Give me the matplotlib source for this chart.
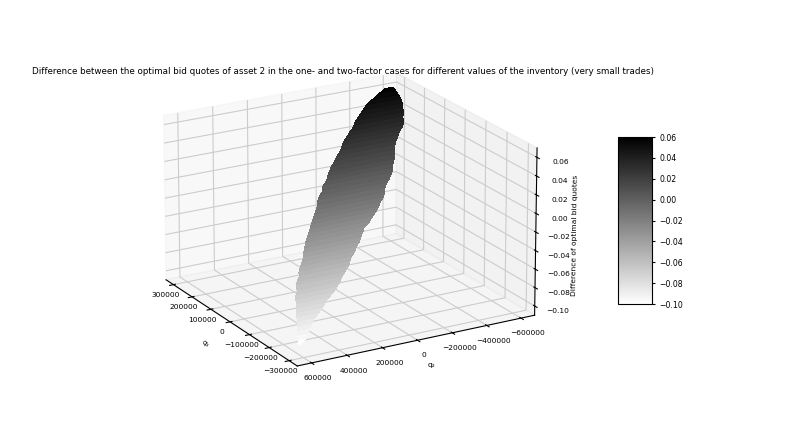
import numpy as np
import matplotlib
matplotlib.use("Agg")
import matplotlib.pyplot as plt
from mpl_toolkits.mplot3d import Axes3D

# rows of the surface: z level, q1 of the row, q2 at both edges
z_rows = [-0.100, -0.097, -0.094, -0.091, -0.088, -0.085, -0.082, -0.079, -0.076, -0.073,
          -0.070, -0.067, -0.064, -0.061, -0.058, -0.055, -0.052, -0.049, -0.046, -0.043,
          -0.040, -0.037, -0.034, -0.031, -0.028, -0.025, -0.022, -0.019, -0.016, -0.013,
          -0.010, -0.007, -0.004, -0.001, 0.002, 0.005, 0.008, 0.011, 0.014, 0.017,
          0.020, 0.023, 0.026, 0.029, 0.032, 0.035, 0.038, 0.041, 0.044, 0.047,
          0.050, 0.053, 0.056, 0.059]
q1_rows = [-275000, -265000, -255000, -245000, -235000, -225000, -215000, -205000, -195000, -185000,
           -175000, -165000, -155000, -140000, -135000, -120000, -110000, -100000, -90000, -80000,
           -70000, -60000, -45000, -35000, -25000, -15000, -5000, 5000, 15000, 25000,
           35000, 50000, 60000, 70000, 85000, 95000, 105000, 115000, 130000, 140000,
           155000, 165000, 180000, 190000, 200000, 210000, 225000, 235000, 250000, 260000,
           275000, 285000, 300000, 315000]
q2_left = [600000, 590000, 580000, 570000, 560000, 550000, 540000, 530000, 520000, 510000,
           500000, 490000, 470000, 460000, 450000, 420000, 410000, 390000, 370000, 350000,
           340000, 320000, 300000, 280000, 260000, 240000, 220000, 200000, 180000, 160000,
           140000, 120000, 100000, 70000, 50000, 20000, 0, -20000, -50000, -80000,
           -110000, -140000, -170000, -190000, -220000, -250000, -290000, -310000, -350000, -380000,
           -420000, -460000, -520000, -580000]
q2_right = [590000, 550000, 530000, 500000, 480000, 460000, 420000, 390000, 360000, 330000,
            290000, 260000, 230000, 200000, 180000, 140000, 120000, 100000, 70000, 50000,
            20000, 0, -30000, -50000, -90000, -120000, -150000, -180000, -200000, -230000,
            -250000, -270000, -290000, -320000, -350000, -370000, -380000, -400000, -420000, -430000,
            -450000, -470000, -500000, -520000, -550000, -570000, -580000, -600000, -610000, -620000,
            -630000, -630000, -630000, -630000]

q1_ticks = [-300000, -200000, -100000, 0, 100000, 200000, 300000]
q2_ticks = [-600000, -400000, -200000, 0, 200000, 400000, 600000]
z_ticks = [-0.10, -0.08, -0.06, -0.04, -0.02, 0.00, 0.02, 0.04, 0.06]

plt.rcParams['font.size'] = 5.4
plt.rcParams['grid.color'] = '#cccccc'
plt.rcParams['grid.linewidth'] = 0.8
fig = plt.figure(figsize=(7.89, 4.44), dpi=100)
ax = fig.add_axes([0.10, 0.064, 0.67, 0.88], projection='3d')
ax.set_proj_type('persp', focal_length=2.2)
ax.set_box_aspect((4, 4, 2.6), zoom=1.05)
ax.view_init(elev=20, azim=150)

X = np.column_stack([q1_rows, q1_rows])
Y = np.column_stack([q2_left, q2_right])
Z = np.column_stack([z_rows, z_rows])
surf = ax.plot_surface(X, Y, Z, rstride=1, cstride=1, cmap='gray_r', vmin=-0.10, vmax=0.06,
                       linewidth=0, antialiased=False)

ax.set_xlim(-340000, 340000)
ax.set_ylim(-680000, 680000)
ax.set_zlim(-0.11, 0.07)
ax.set_xticks(q1_ticks)
ax.set_yticks(q2_ticks)
ax.set_zticks(z_ticks)
ax.set_xlabel('q₁', labelpad=-6)
ax.xaxis.set_rotate_label(True)
ax.set_ylabel('q₂', labelpad=-7)
ax.set_zlabel('Difference of optimal bid quotes', labelpad=-6)
ax.tick_params(length=2)
ax.tick_params(axis='x', pad=-3)
ax.tick_params(axis='y', pad=-1)
ax.tick_params(axis='z', pad=1)

fig.text(343 / 789, 1 - 72 / 444, 'Difference between the optimal bid quotes of asset 2 in the one- and two-factor cases for different values of the inventory (very small trades)',
         fontsize=6.3, ha='center', va='center')

cax = fig.add_axes([618 / 789, 1 - 304 / 444, 34 / 789, 167 / 444])
cb = fig.colorbar(surf, cax=cax)
cb.set_ticks(z_ticks)
cb.ax.tick_params(length=2, labelsize=5.6)

fig.savefig('out.png', dpi=100)
